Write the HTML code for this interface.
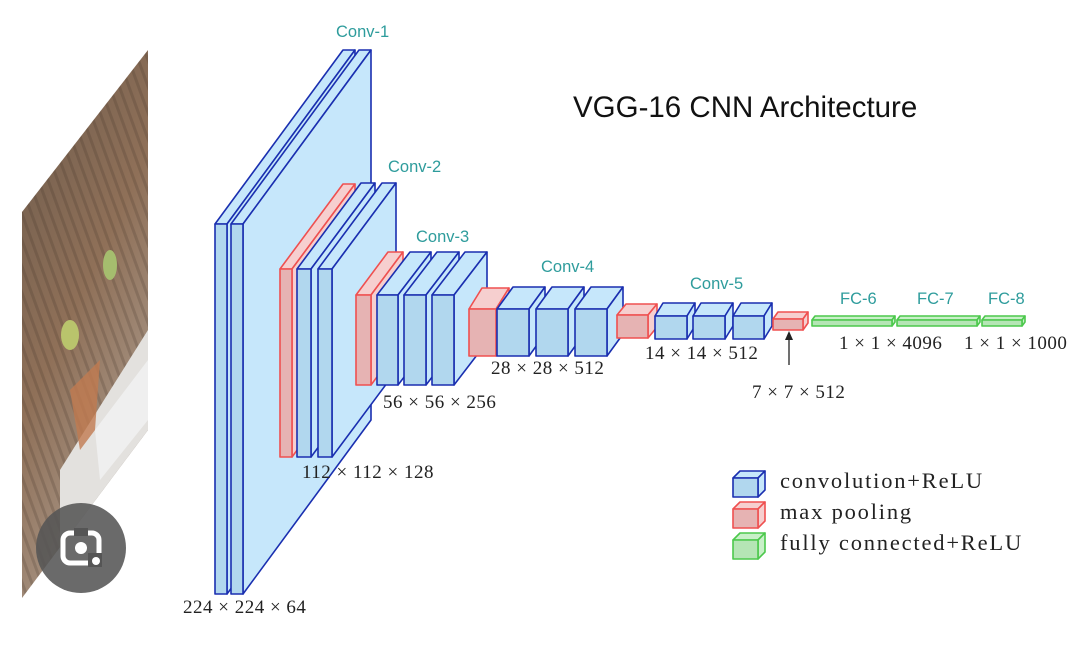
<!DOCTYPE html>
<html><head><meta charset="utf-8"><style>
html,body{margin:0;padding:0;background:#fff;width:1079px;height:647px;overflow:hidden}
svg{display:block}
.t{font-family:"Liberation Sans",sans-serif;fill:#2e9c9c;font-size:16.5px}
.d{font-family:"Liberation Serif",serif;fill:#222;font-size:19px;letter-spacing:0.5px}
.l{font-family:"Liberation Serif",serif;fill:#222;font-size:22.5px;letter-spacing:1.8px}
</style></head><body>
<svg id="s" width="1079" height="647" viewBox="0 0 1079 647" xmlns="http://www.w3.org/2000/svg">
<defs>
<linearGradient id="cat" x1="0" y1="0" x2="0.6" y2="1">
<stop offset="0" stop-color="#6f6259"/><stop offset="0.3" stop-color="#7d6552"/>
<stop offset="0.55" stop-color="#8f7058"/><stop offset="0.8" stop-color="#a08a78"/><stop offset="1" stop-color="#7c6e66"/>
</linearGradient>
<pattern id="fur" width="9" height="30" patternUnits="userSpaceOnUse" patternTransform="rotate(-20)">
<rect width="9" height="30" fill="none"/><rect width="3" height="30" fill="#3d2e22" opacity="0.2"/>
</pattern>
<clipPath id="pc"><polygon points="22,212 148,50 148,430 22,598"/></clipPath>
</defs>
<g clip-path="url(#pc)">
<rect x="0" y="40" width="160" height="570" fill="url(#cat)"/>
<rect x="0" y="40" width="160" height="570" fill="url(#fur)"/>
<polygon points="60,470 148,330 148,440 60,560" fill="#e3e1de"/>
<polygon points="95,430 148,360 148,420 100,480" fill="#efefef"/>
<polygon points="70,390 100,360 95,430 80,450" fill="#c07a50" opacity="0.8"/>
<ellipse cx="70" cy="335" rx="9" ry="15" fill="#b9c46c"/>
<ellipse cx="110" cy="265" rx="7" ry="15" fill="#a5bd6e"/>
</g>
<circle cx="81" cy="548" r="45" fill="#555" opacity="0.88"/>
<rect x="63" y="533" width="36" height="30" rx="7" fill="none" stroke="#fff" stroke-width="5"/>
<rect x="74" y="528" width="14" height="8" fill="#555"/>
<circle cx="81" cy="548" r="6" fill="#fff"/>
<rect x="88" y="553" width="14" height="14" fill="#555"/>
<circle cx="96" cy="561" r="4" fill="#fff"/>
<g id="boxes"></g>
<line x1="789" y1="365" x2="789" y2="336" stroke="#222" stroke-width="1.3"/>
<polygon points="789,331 785,340 793,340" fill="#222"/>
<text class="t" x="336" y="37">Conv-1</text>
<text class="t" x="388" y="172">Conv-2</text>
<text class="t" x="416" y="242">Conv-3</text>
<text class="t" x="541" y="272">Conv-4</text>
<text class="t" x="690" y="289">Conv-5</text>
<text class="t" x="840" y="304">FC-6</text>
<text class="t" x="917" y="304">FC-7</text>
<text class="t" x="988" y="304">FC-8</text>
<text x="573" y="117" font-family="Liberation Sans,sans-serif" font-size="29.5" fill="#111">VGG-16 CNN Architecture</text>
<text class="d" x="183" y="613">224 × 224 × 64</text>
<text class="d" x="302" y="478">112 × 112 × 128</text>
<text class="d" x="383" y="408">56 × 56 × 256</text>
<text class="d" x="491" y="374">28 × 28 × 512</text>
<text class="d" x="645" y="359">14 × 14 × 512</text>
<text class="d" x="752" y="398">7 × 7 × 512</text>
<text class="d" x="839" y="349">1 × 1 × 4096</text>
<text class="d" x="964" y="349">1 × 1 × 1000</text>
<text class="l" x="780" y="488">convolution+ReLU</text>
<text class="l" x="780" y="519">max pooling</text>
<text class="l" x="780" y="550">fully connected+ReLU</text>
</svg>
<script>
var C={b:["#1a2fb0","#b1d7ee","#c6e7fb"],r:["#ef5050","#e6b3b3","#f6cfcf"],g:["#4cc84c","#b5e5b5","#c8f0c8"]};
var out="";
function B(x,y,w,h,dx,dy,t){var c=C[t];var s='stroke="'+c[0]+'" stroke-width="1.6" stroke-linejoin="round"';
out+='<polygon points="'+x+','+y+' '+(x+dx)+','+(y+dy)+' '+(x+w+dx)+','+(y+dy)+' '+(x+w)+','+y+'" fill="'+c[2]+'" '+s+'/>';
out+='<polygon points="'+(x+w)+','+y+' '+(x+w+dx)+','+(y+dy)+' '+(x+w+dx)+','+(y+h+dy)+' '+(x+w)+','+(y+h)+'" fill="'+c[2]+'" '+s+'/>';
out+='<rect x="'+x+'" y="'+y+'" width="'+w+'" height="'+h+'" fill="'+c[1]+'" '+s+'/>';}
B(215,224,12,370,128,-174,"b");B(231,224,12,370,128,-174,"b");
B(280,269,12,188,63,-85,"r");B(297,269,14,188,64,-86,"b");B(318,269,14,188,64,-86,"b");
B(356,295,15,90,32,-43,"r");B(377,295,21,90,33,-43,"b");B(404,295,22,90,33,-43,"b");B(432,295,22,90,33,-43,"b");
B(469,309,27,47,13,-21,"r");B(497,309,32,47,16,-22,"b");B(536,309,32,47,16,-22,"b");B(575,309,32,47,16,-22,"b");
B(617,315,31,23,9,-11,"r");B(655,316,32,23,8,-13,"b");B(693,316,32,23,8,-13,"b");B(733,316,31,23,8,-13,"b");
B(773,319,30,11,5,-7,"r");
B(812,320,80,6,3,-4,"g");B(897,320,80,6,3,-4,"g");B(982,320,40,6,3,-4,"g");
B(733,478,25,19,7,-7,"b");B(733,509,25,19,7,-7,"r");B(733,540,25,19,7,-7,"g");
document.getElementById("boxes").innerHTML=out;
</script>
</body></html>
